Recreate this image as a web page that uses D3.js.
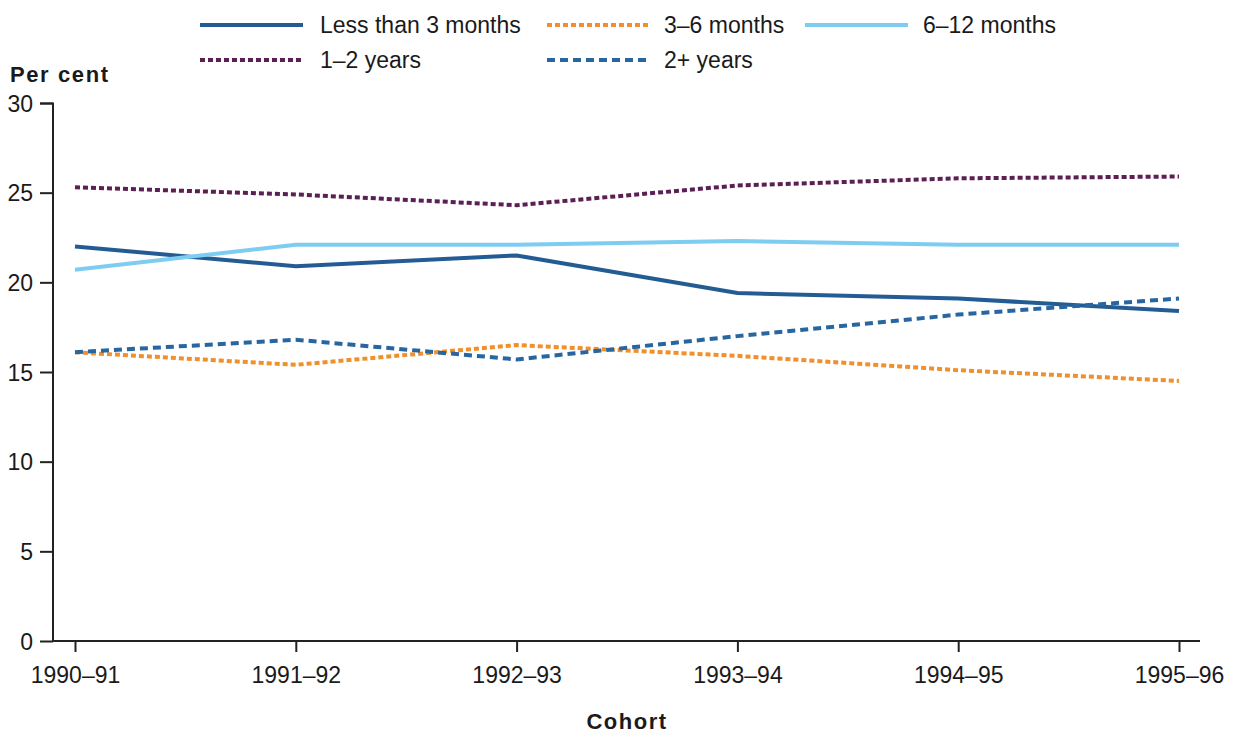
<!DOCTYPE html>
<html>
<head>
<meta charset="utf-8">
<script src="https://cdn.jsdelivr.net/npm/d3@7"></script>
<style>
  body { margin: 0; background: #fff; }
  svg text { font-family: "Liberation Sans", Arial, sans-serif; fill: #1a1a1a; }
</style>
</head>
<body>
<svg id="chart" width="1237" height="736"></svg>
<script>
// cohorts along the x axis
const cohorts = ["1990–91", "1991–92", "1992–93", "1993–94", "1994–95", "1995–96"];
const yTicks = [0, 5, 10, 15, 20, 25, 30];

// per cent of each cohort, by duration
const lessThan3Months = [22.0, 20.9, 21.5, 19.4, 19.1, 18.4];
const months3to6 = [16.1, 15.4, 16.5, 15.9, 15.1, 14.5];
const months6to12 = [20.7, 22.1, 22.1, 22.3, 22.1, 22.1];
const years1to2 = [25.3, 24.9, 24.3, 25.4, 25.8, 25.9];
const years2plus = [16.1, 16.8, 15.7, 17.0, 18.2, 19.1];

const series = [
    { name: "Less than 3 months", values: lessThan3Months, color: "#235c93", dash: null },
    { name: "3–6 months", values: months3to6, color: "#f0902c", dash: "5,3" },
    { name: "6–12 months", values: months6to12, color: "#7dccf1", dash: null },
    { name: "1–2 years", values: years1to2, color: "#5c1f53", dash: "5,3" },
    { name: "2+ years", values: years2plus, color: "#2766a0", dash: "8,5" }
];

const svg = d3.select("#chart");

const x = d3.scalePoint().domain(cohorts).range([75, 1179]);
const y = d3.scaleLinear().domain([0, 30]).range([641, 103]);

// y axis
const yAxis = svg.append("g")
    .attr("transform", "translate(53,0)")
    .call(d3.axisLeft(y).tickValues(yTicks).tickSize(13).tickPadding(7));
yAxis.select(".domain").attr("stroke", "#222").attr("stroke-width", 2).attr("d", "M-13,103.5H0V641");
yAxis.selectAll(".tick line").attr("stroke", "#222").attr("stroke-width", 2);
yAxis.selectAll(".tick text").style("font-size", "23px").attr("dy", "0.35em");

// x axis
const xAxis = svg.append("g")
    .attr("transform", "translate(0,641)")
    .call(d3.axisBottom(x).tickSize(11).tickPadding(15));
xAxis.select(".domain").attr("stroke", "#222").attr("stroke-width", 2).attr("d", "M53,0H1200");
xAxis.selectAll(".tick line").attr("stroke", "#222").attr("stroke-width", 2);
xAxis.selectAll(".tick text").style("font-size", "23px");

// axis titles
svg.append("text")
    .attr("x", 10).attr("y", 82)
    .style("font-size", "22px").style("font-weight", "bold")
    .style("letter-spacing", "1.6px")
    .text("Per cent");

svg.append("text")
    .attr("x", 627).attr("y", 729)
    .attr("text-anchor", "middle")
    .style("font-size", "22px").style("font-weight", "bold")
    .style("letter-spacing", "1.5px")
    .text("Cohort");

// lines
const line = d3.line()
    .x((d, i) => x(cohorts[i]))
    .y(d => y(d));

svg.append("g")
    .selectAll("path")
    .data(series)
    .enter()
    .append("path")
    .attr("d", d => line(d.values))
    .attr("fill", "none")
    .attr("stroke", d => d.color)
    .attr("stroke-width", 4)
    .attr("stroke-dasharray", d => d.dash);

// legend, two rows
const legendPos = [
    { x: 200, y: 25 }, { x: 547, y: 25 }, { x: 805, y: 25 },
    { x: 200, y: 60 }, { x: 547, y: 60 }
];

const legend = svg.append("g")
    .selectAll("g")
    .data(series)
    .enter()
    .append("g")
    .attr("transform", (d, i) => `translate(${legendPos[i].x},${legendPos[i].y})`);

legend.append("line")
    .attr("x1", 0).attr("x2", 103)
    .attr("stroke", d => d.color)
    .attr("stroke-width", 4)
    .attr("stroke-dasharray", d => d.dash);

legend.append("text")
    .attr("x", (d, i) => i === 2 ? 118 : i === 1 || i === 4 ? 117 : 120)
    .attr("dy", "0.35em")
    .style("font-size", "23px")
    .text(d => d.name);
</script>
</body>
</html>
